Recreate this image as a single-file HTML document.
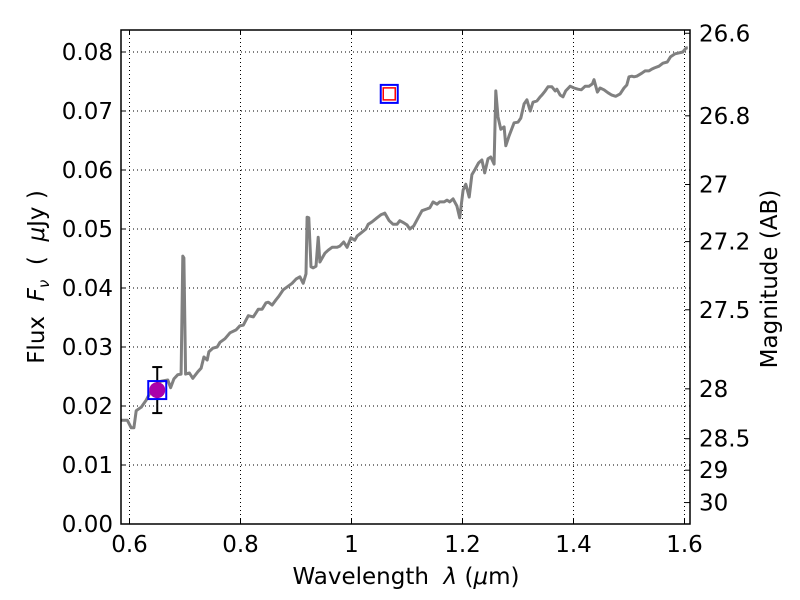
<!DOCTYPE html>
<html><head><meta charset="utf-8"><style>
body{margin:0;background:#fff}
svg{display:block;font-family:"DejaVu Sans","Liberation Sans",sans-serif}
svg text{white-space:pre}
</style></head><body>
<svg id="chart" width="800" height="600"></svg>
<script>
const wavelengths=[0.585,0.596,0.603,0.608,0.612,0.621,0.630,0.637,0.646,0.657,0.669,0.674,0.680,0.687,0.693,0.696,0.698,0.701,0.708,0.714,0.723,0.729,0.734,0.740,0.743,0.750,0.758,0.763,0.772,0.781,0.792,0.799,0.805,0.814,0.823,0.828,0.832,0.839,0.846,0.850,0.857,0.864,0.869,0.877,0.886,0.893,0.900,0.907,0.913,0.918,0.920,0.923,0.927,0.931,0.936,0.940,0.943,0.952,0.958,0.965,0.974,0.979,0.986,0.992,0.999,1.006,1.010,1.017,1.026,1.030,1.037,1.046,1.053,1.060,1.068,1.075,1.082,1.087,1.095,1.100,1.105,1.112,1.120,1.127,1.136,1.141,1.147,1.154,1.159,1.167,1.172,1.177,1.183,1.190,1.195,1.201,1.206,1.212,1.217,1.222,1.229,1.235,1.240,1.246,1.251,1.257,1.260,1.264,1.269,1.275,1.278,1.284,1.293,1.300,1.305,1.311,1.316,1.322,1.327,1.334,1.340,1.343,1.349,1.354,1.361,1.367,1.370,1.376,1.381,1.386,1.394,1.401,1.408,1.414,1.421,1.428,1.434,1.437,1.443,1.448,1.455,1.462,1.469,1.476,1.484,1.491,1.496,1.500,1.505,1.509,1.514,1.523,1.529,1.536,1.541,1.546,1.554,1.561,1.569,1.575,1.583,1.588,1.597,1.603,1.606];
const fluxes=[0.0176,0.0176,0.0163,0.0163,0.0192,0.0198,0.0210,0.0222,0.0236,0.0242,0.0244,0.0231,0.0246,0.0253,0.0254,0.0454,0.0451,0.0254,0.0256,0.0247,0.0258,0.0264,0.0283,0.0278,0.0292,0.0298,0.0300,0.0308,0.0314,0.0324,0.0329,0.0336,0.0337,0.0353,0.0351,0.0358,0.0364,0.0364,0.0375,0.0376,0.0371,0.0380,0.0386,0.0397,0.0403,0.0408,0.0415,0.0419,0.0408,0.0424,0.0520,0.0519,0.0436,0.0434,0.0437,0.0486,0.0444,0.0459,0.0464,0.0469,0.0469,0.0471,0.0478,0.0469,0.0485,0.0481,0.0488,0.0493,0.0500,0.0508,0.0512,0.0519,0.0524,0.0527,0.0514,0.0508,0.0508,0.0514,0.0510,0.0507,0.0500,0.0505,0.0519,0.0531,0.0534,0.0536,0.0546,0.0542,0.0546,0.0546,0.0549,0.0546,0.0551,0.0539,0.0519,0.0566,0.0576,0.0554,0.0592,0.0600,0.0612,0.0617,0.0595,0.0619,0.0622,0.0610,0.0734,0.0690,0.0669,0.0673,0.0641,0.0658,0.0680,0.0681,0.0688,0.0712,0.0719,0.0700,0.0715,0.0717,0.0724,0.0727,0.0734,0.0741,0.0741,0.0734,0.0737,0.0727,0.0724,0.0734,0.0742,0.0739,0.0737,0.0736,0.0742,0.0742,0.0746,0.0753,0.0732,0.0739,0.0736,0.0731,0.0727,0.0725,0.0729,0.0739,0.0744,0.0758,0.0759,0.0758,0.0759,0.0764,0.0768,0.0768,0.0771,0.0773,0.0776,0.0781,0.0783,0.0792,0.0797,0.0798,0.0800,0.0807,0.0807];
const photWave=[0.650,1.068];
const photFlux=[0.0227,0.0729];
const photErr=[0.0039,0];
const xTicks=[0.6,0.8,1,1.2,1.4,1.6];
const xTickLabels=["0.6","0.8","1","1.2","1.4","1.6"];
const yTicks=[0,0.01,0.02,0.03,0.04,0.05,0.06,0.07,0.08];
const yTickLabels=["0.00","0.01","0.02","0.03","0.04","0.05","0.06","0.07","0.08"];
const magTicks=[26.6,26.8,27,27.2,27.5,28,28.5,29,30];
const magTickLabels=["26.6","26.8","27","27.2","27.5","28","28.5","29","30"];

const L=121,R=690,T=30,B=524;
const X=v=>129.5+(v-0.6)*555;
const Y=v=>524-v*5900;
const NS="http://www.w3.org/2000/svg";
const svg=document.getElementById('chart');
const FS=23;
function mk(tag,attrs,parent){const e=document.createElementNS(NS,tag);for(const k in attrs)e.setAttribute(k,attrs[k]);(parent||svg).appendChild(e);return e;}

xTicks.forEach((t,i)=>{
  const g=mk('line',{x1:X(t),x2:X(t),y1:T,y2:B,stroke:'#000','stroke-width':1,'stroke-dasharray':'1,3'});
  
  
  mk('line',{x1:X(t),x2:X(t),y1:B,y2:B-5,stroke:'#000'});
  mk('line',{x1:X(t),x2:X(t),y1:T,y2:T+5,stroke:'#000'});
  const tx=mk('text',{x:X(t),y:B+28,'font-size':FS,'text-anchor':'middle'});tx.textContent=xTickLabels[i];
  
  
});
yTicks.forEach((t,i)=>{
  const g=mk('line',{x1:L,x2:R,y1:Y(t),y2:Y(t),stroke:'#000','stroke-width':1,'stroke-dasharray':'1,3'});
  
  
  mk('line',{x1:L,x2:L+5,y1:Y(t),y2:Y(t),stroke:'#000'});
  const tx=mk('text',{x:L-8,y:Y(t)+8,'font-size':FS,'text-anchor':'end'});tx.textContent=yTickLabels[i];
  
  
});
magTicks.forEach((m,i)=>{
  const f=Math.pow(10,(23.9-m)/2.5);const y=Y(f);
  mk('line',{x1:R,x2:R-5,y1:y,y2:y,stroke:'#000'});
  const tx=mk('text',{x:R+9,y:y+8,'font-size':FS});tx.textContent=magTickLabels[i];
  
  
});

const pts=wavelengths.map((w,i)=>X(w).toFixed(1)+','+Y(fluxes[i]).toFixed(1)).join(' ');
const cp=mk('clipPath',{id:'cp'});mk('rect',{x:L,y:T,width:R-L,height:B-T},cp);
const line=mk('polyline',{points:pts,fill:'none',stroke:'#808080','stroke-width':3,'stroke-linejoin':'round','clip-path':'url(#cp)'});



photWave.forEach((w,i)=>{
  const x=X(w),y=Y(photFlux[i]);
  if(i===0){
    const eb=mk('g',{});
    
    
    const y1=Y(photFlux[i]+photErr[i]),y2=Y(photFlux[i]-photErr[i]);
    mk('line',{x1:x,x2:x,y1:y1,y2:y2,stroke:'#000','stroke-width':2},eb);
    mk('line',{x1:x-5,x2:x+5,y1:y1,y2:y1,stroke:'#000','stroke-width':2},eb);
    mk('line',{x1:x-5,x2:x+5,y1:y2,y2:y2,stroke:'#000','stroke-width':2},eb);
    const sq=mk('rect',{x:x-9,y:y-9,width:18,height:18,fill:'none',stroke:'#0000ff','stroke-width':2});
    
    
    const c=mk('circle',{cx:x,cy:y,r:8,fill:'#aa00aa'});
    
    
  } else {
    const sq=mk('rect',{x:x-8.5,y:y-9,width:17,height:18,fill:'#fff',stroke:'#0000ff','stroke-width':2});
    
    
    const sq2=mk('rect',{x:x-6,y:y-6,width:12,height:12,fill:'#fff',stroke:'#ff0000','stroke-width':1.5});
    
    
  }
});

const fr=mk('rect',{x:L,y:T,width:R-L,height:B-T,fill:'none',stroke:'#000','stroke-width':1.5});



const xl=mk('text',{x:406,y:584,'font-size':FS,'text-anchor':'middle'});
xl.innerHTML='Wavelength  <tspan font-style="italic">λ</tspan> (<tspan font-style="italic">μ</tspan>m)';


const yl=mk('text',{x:0,y:0,'font-size':FS,'text-anchor':'middle',transform:'translate(44,277) rotate(-90)'});
yl.innerHTML='Flux  <tspan font-style="italic">F</tspan><tspan font-style="italic" font-size="15" dy="5">ν</tspan><tspan dy="-5">  (  </tspan><tspan font-style="italic">μ</tspan>Jy )';


const rl=mk('text',{x:0,y:0,'font-size':FS,'text-anchor':'middle',transform:'translate(777,279) rotate(-90)'});
rl.textContent='Magnitude (AB)';


</script>
</body></html>
